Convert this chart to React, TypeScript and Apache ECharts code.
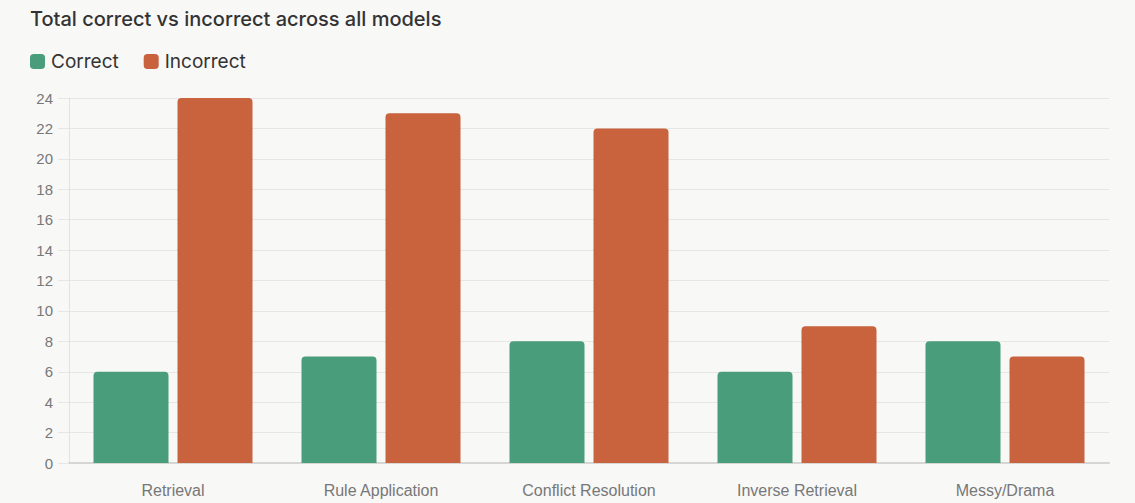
import React, { useEffect, useRef } from "react";
import * as echarts from "echarts";

const categories = ["Retrieval", "Rule Application", "Conflict Resolution", "Inverse Retrieval", "Messy/Drama"];
const correctValues = [6, 7, 8, 6, 8];
const incorrectValues = [24, 23, 22, 9, 7];
const seriesNames = ["Correct", "Incorrect"];
const chartTitle = "Total correct vs incorrect across all models";

export default function App() {
  const ref = useRef<HTMLDivElement>(null);
  useEffect(() => {
    document.body.style.margin = "0";
    document.body.style.background = "#f8f8f7";
    const chart = echarts.init(ref.current!, null, { renderer: "svg" });
    chart.setOption({
      animation: false,
      backgroundColor: "#f8f8f7",
      title: {
        text: chartTitle,
        left: 25,
        top: 4,
        textStyle: { fontFamily: "Inter", fontSize: 20, fontWeight: 500, color: "#333" },
      },
      legend: {
        left: 25,
        top: 47,
        itemWidth: 15,
        itemHeight: 15,
        itemGap: 25,
        icon: "roundRect",
        textStyle: { fontFamily: "Inter", fontSize: 19, color: "#333", padding: [0, 0, 0, 1] },
        data: seriesNames,
      },
      grid: { left: 69, right: 26, top: 98, bottom: 40, containLabel: false },
      xAxis: {
        type: "category",
        data: categories,
        axisLine: { lineStyle: { color: "#d6d6d4", width: 2 } },
        axisTick: { show: false },
        axisLabel: { fontFamily: "Liberation Sans", fontSize: 16, color: "#777", margin: 19 },
      },
      yAxis: {
        type: "value",
        min: 0,
        max: 24,
        interval: 2,
        axisLine: { show: true, lineStyle: { color: "#e2e2e0" } },
        axisTick: { show: true, length: 11, lineStyle: { color: "#e6e6e4" } },
        axisLabel: { fontFamily: "Liberation Sans", fontSize: 15, color: "#777", margin: 16 },
        splitLine: { lineStyle: { color: "#e6e6e4" } },
      },
      series: [
        {
          name: seriesNames[0],
          type: "bar",
          data: correctValues,
          barWidth: 75,
          barGap: "12%",
          itemStyle: { color: "#4a9d7a", borderRadius: [4, 4, 0, 0] },
        },
        {
          name: seriesNames[1],
          type: "bar",
          data: incorrectValues,
          barWidth: 75,
          barGap: "12%",
          itemStyle: { color: "#c8633e", borderRadius: [4, 4, 0, 0] },
        },
      ],
    });
    return () => chart.dispose();
  }, []);
  return <div ref={ref} style={{ width: 1135, height: 503 }} />;
}
